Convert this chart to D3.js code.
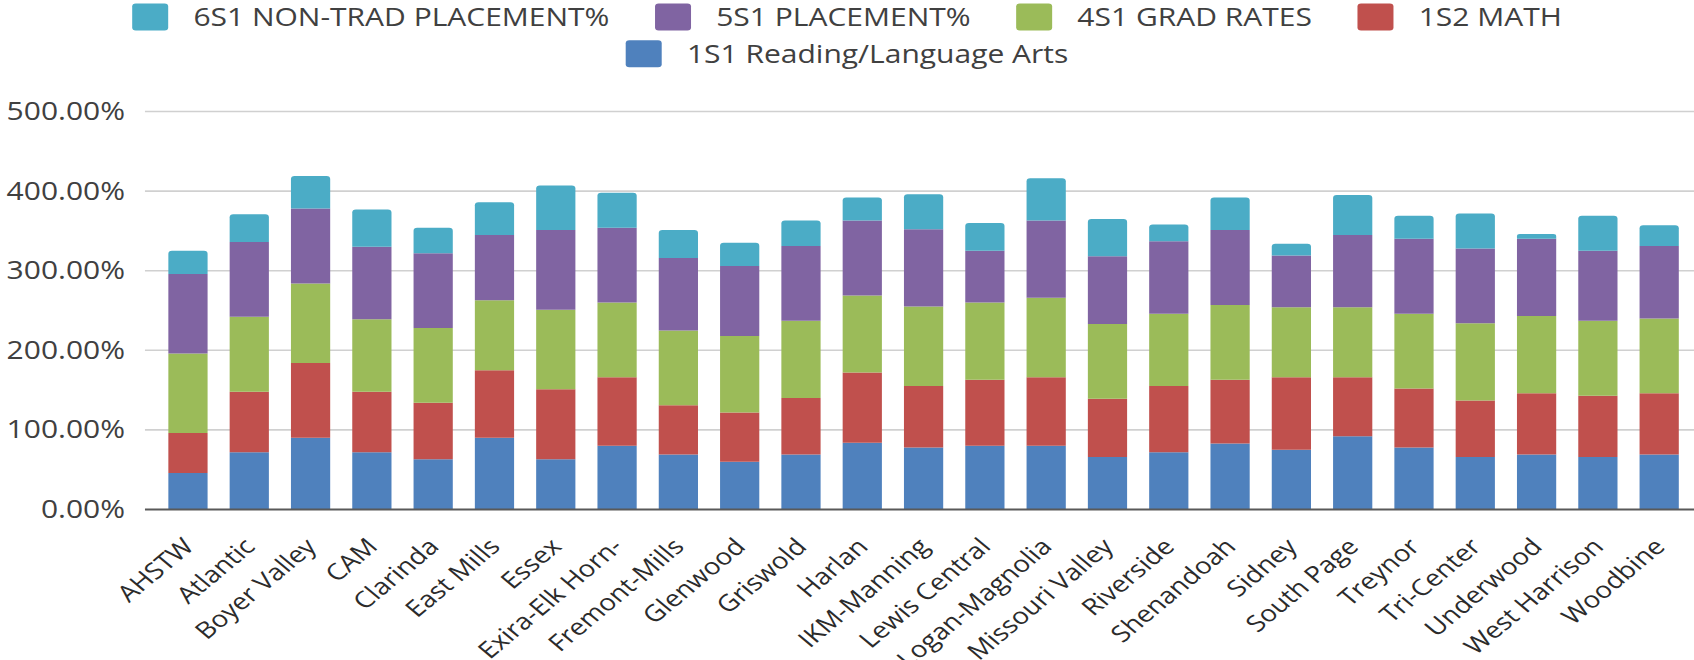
<!DOCTYPE html>
<html>
<head>
<meta charset="utf-8">
<script src="https://cdn.jsdelivr.net/npm/d3@7/dist/d3.min.js"></script>
<style>
  html, body { margin: 0; padding: 0; background: #fff; }
  svg { display: block; }
  text { font-family: 'Open Sans', 'DejaVu Sans', sans-serif; }
</style>
</head>
<body>
<div id="chart"></div>
<script>
// districts along the x axis
const categories = [
  'AHSTW', 'Atlantic', 'Boyer Valley', 'CAM', 'Clarinda', 'East Mills', 'Essex',
  'Exira-Elk Horn-', 'Fremont-Mills', 'Glenwood', 'Griswold', 'Harlan',
  'IKM-Manning', 'Lewis Central', 'Logan-Magnolia', 'Missouri Valley',
  'Riverside', 'Shenandoah', 'Sidney', 'South Page', 'Treynor', 'Tri-Center',
  'Underwood', 'West Harrison', 'Woodbine'
];

// series values (percent)
const reading = [46, 72, 90, 72, 63, 90, 63, 80, 69, 60, 69, 84, 78, 80, 80, 66, 72, 83, 75, 92, 78, 66, 69, 66, 69];
const math = [50, 76, 94, 76, 71, 85, 88, 86, 62, 62, 71, 88, 77, 83, 86, 73, 83, 80, 91, 74, 74, 71, 77, 77, 77];
const gradRates = [100, 94, 100, 91, 94, 88, 100, 94, 94, 96, 97, 97, 100, 97, 100, 94, 91, 94, 88, 88, 94, 97, 97, 94, 94];
const placement = [100, 94, 94, 91, 94, 82, 100, 94, 91, 88, 94, 94, 97, 65, 97, 85, 91, 94, 65, 91, 94, 94, 97, 88, 91];
const nonTrad = [29, 35, 41, 47, 32, 41, 56, 44, 35, 29, 32, 29, 44, 35, 53, 47, 21, 41, 15, 50, 29, 44, 6, 44, 26];

const yTicks = [0, 100, 200, 300, 400, 500];

// stack order, bottom to top
const seriesNames = [
  '1S1 Reading/Language Arts',
  '1S2 MATH',
  '4S1 GRAD RATES',
  '5S1 PLACEMENT%',
  '6S1 NON-TRAD PLACEMENT%'
];
const seriesValues = [reading, math, gradRates, placement, nonTrad];
const colors = ['#4f81bd', '#c0504d', '#9bbb59', '#8064a2', '#4bacc6'];

// legend rows as they appear
const legendRows = [
  ['6S1 NON-TRAD PLACEMENT%', '5S1 PLACEMENT%', '4S1 GRAD RATES', '1S2 MATH'],
  ['1S1 Reading/Language Arts']
];

// the picture is stretched sideways, so draw in narrower units and let the svg stretch
const outW = 1694, outH = 660, stretch = 1.2;
const W = outW / stretch;

const color = d3.scaleOrdinal().domain(seriesNames).range(colors);

const rows = categories.map(function(c, i) {
  const r = { name: c };
  seriesNames.forEach(function(s, k) { r[s] = seriesValues[k][i]; });
  return r;
});
const stacked = d3.stack().keys(seriesNames)(rows);

const svg = d3.select('#chart').append('svg')
  .attr('width', outW)
  .attr('height', outH)
  .attr('viewBox', '0 0 ' + W + ' ' + outH)
  .attr('preserveAspectRatio', 'none');

const plotLeft = 120.8;
const x = d3.scaleBand()
  .domain(categories)
  .range([131.1, 1408.2])
  .paddingInner(0.36)
  .paddingOuter(0.18);
const y = d3.scaleLinear().domain([0, 500]).range([509.5, 111.5]);

// gridlines
svg.append('g')
  .selectAll('line')
  .data(yTicks.filter(d => d > 0))
  .join('line')
  .attr('x1', plotLeft)
  .attr('x2', W)
  .attr('y1', d => y(d))
  .attr('y2', d => y(d))
  .attr('stroke', '#d0d0d0')
  .attr('stroke-width', 1.6);

// y axis labels
const yAxis = d3.axisLeft(y)
  .tickValues(yTicks)
  .tickSize(0)
  .tickPadding(16.6)
  .tickFormat(d => d.toFixed(2) + '%');
svg.append('g')
  .attr('transform', 'translate(' + plotLeft + ',0)')
  .call(yAxis)
  .call(g => g.select('.domain').remove())
  .selectAll('text')
  .attr('font-family', "'Open Sans', sans-serif")
  .attr('font-size', 25)
  .attr('fill', '#404040');

// bars; top segment gets rounded corners
function barPath(x0, y0, w, h, r) {
  r = Math.min(r, h / 2);
  return 'M' + x0 + ',' + (y0 + h) +
    'V' + (y0 + r) +
    'Q' + x0 + ',' + y0 + ' ' + (x0 + r) + ',' + y0 +
    'H' + (x0 + w - r) +
    'Q' + (x0 + w) + ',' + y0 + ' ' + (x0 + w) + ',' + (y0 + r) +
    'V' + (y0 + h) + 'Z';
}

const last = seriesNames[seriesNames.length - 1];
svg.append('g')
  .selectAll('g')
  .data(stacked)
  .join('g')
  .attr('fill', d => color(d.key))
  .each(function(series) {
    d3.select(this)
      .selectAll('path')
      .data(series)
      .join('path')
      .attr('d', function(d) {
        const bx = x(d.data.name), bw = x.bandwidth();
        const top = y(d[1]), h = y(d[0]) - y(d[1]);
        return barPath(bx, top, bw, h, series.key === last ? 3 : 0);
      });
  });

// axis line
svg.append('line')
  .attr('x1', plotLeft)
  .attr('x2', W)
  .attr('y1', y(0))
  .attr('y2', y(0))
  .attr('stroke', '#595959')
  .attr('stroke-width', 2);

// x labels, rotated (the long ones run off the bottom, as in the original)
svg.append('g')
  .selectAll('text')
  .data(categories)
  .join('text')
  .attr('transform', d => 'translate(' + (x(d) + x.bandwidth() / 2 + 6) + ',548) rotate(-45)')
  .attr('text-anchor', 'end')
  .attr('font-size', 23)
  .attr('fill', '#2b2b2b')
  .text(d => d);

// legend, each row centred
const legendY = [17, 53.7];
const sw = 30, sh = 27, gap = 21, itemGap = 38;
legendRows.forEach(function(names, ri) {
  const row = svg.append('g');
  const items = row.selectAll('g')
    .data(names)
    .join('g');
  items.append('rect')
    .attr('width', sw)
    .attr('height', sh)
    .attr('y', -sh / 2)
    .attr('rx', 3)
    .attr('fill', d => color(d));
  items.append('text')
    .attr('x', sw + gap)
    .attr('dy', '0.36em')
    .attr('font-size', 25)
    .attr('fill', '#404040')
    .text(d => d);

  let pos = 0;
  items.each(function() {
    const tw = d3.select(this).select('text').node().getComputedTextLength();
    d3.select(this).attr('transform', 'translate(' + pos + ',0)');
    pos += sw + gap + tw + itemGap;
  });
  const total = pos - itemGap;
  row.attr('transform', 'translate(' + (W - total) / 2 + ',' + legendY[ri] + ')');
});
</script>
</body>
</html>
